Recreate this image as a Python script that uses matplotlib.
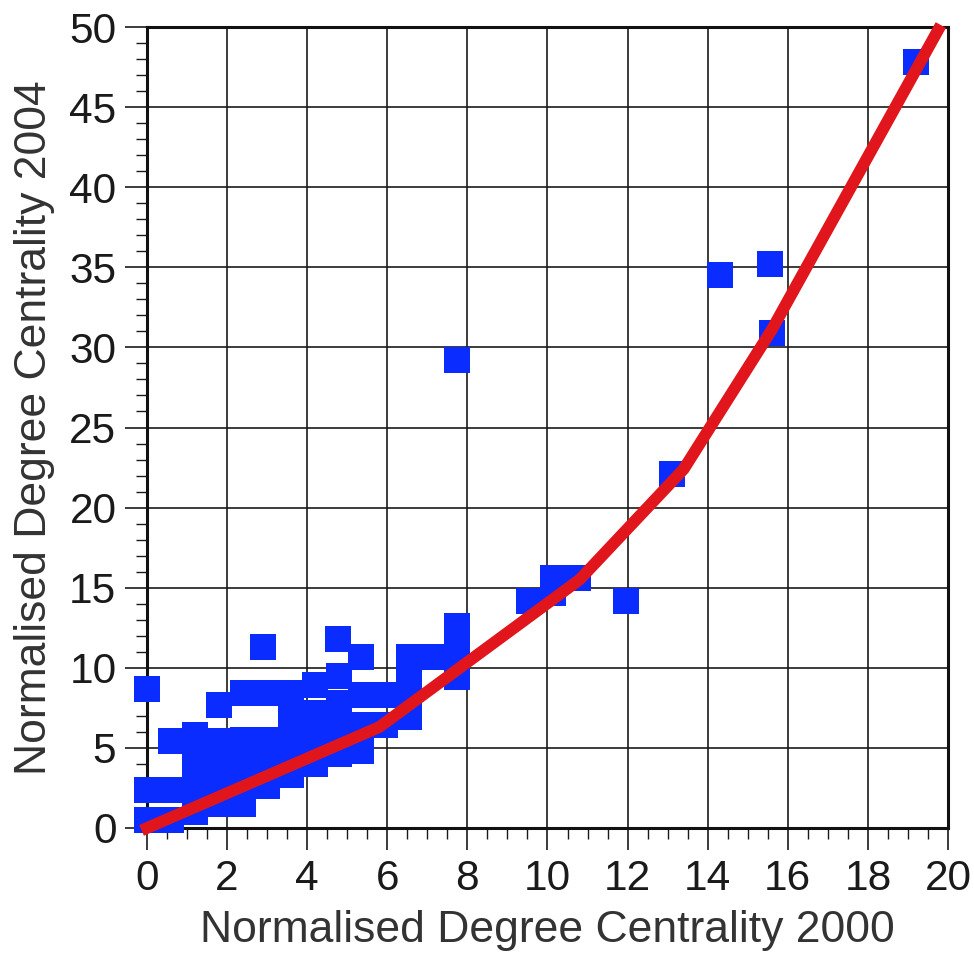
import matplotlib
matplotlib.use("Agg")
import matplotlib.pyplot as plt
from matplotlib.ticker import MultipleLocator

plt.rcParams['font.family'] = ['Liberation Sans', 'DejaVu Sans']

# scatter points (2000 value, 2004 value)
x2000 = [
    # dense cluster, column by column
    0.0, 0.0, 0.0,
    0.6, 0.6, 0.6,
    1.2, 1.2, 1.2, 1.2,
    1.8, 1.8, 1.8, 1.8, 1.8,
    2.4, 2.4, 2.4, 2.4, 2.4,
    3.0, 3.0, 3.0, 3.0,
    3.6, 3.6, 3.6, 3.6, 3.6,
    4.2, 4.2, 4.2, 4.2,
    4.8, 4.8, 4.8, 4.8,
    5.35, 5.35, 5.35,
    5.95, 5.95,
    6.55, 6.55, 6.55, 6.55,
    # scattered ones
    2.9, 4.76, 5.35, 7.1, 7.75, 7.75, 7.75, 7.75,
    9.55, 10.15, 10.15, 10.75, 11.95, 13.1, 14.3, 15.55, 15.6, 19.2,
]
y2004 = [
    0.5, 2.4, 8.7,
    0.5, 2.4, 5.4,
    1.0, 2.6, 4.2, 5.8,
    1.5, 3.1, 4.7, 5.4, 7.7,
    1.5, 3.1, 4.7, 5.5, 8.4,
    2.6, 4.2, 5.5, 8.4,
    3.3, 4.9, 6.5, 7.9, 8.4,
    4.0, 5.6, 7.2, 8.9,
    4.6, 6.2, 7.8, 9.5,
    4.8, 6.4, 8.3,
    6.4, 8.3,
    6.9, 8.5, 10.1, 10.7,
    11.3, 11.8, 10.7, 10.7, 9.4, 11.0, 12.6, 29.2,
    14.2, 15.6, 14.7, 15.6, 14.2, 22.1, 34.5, 35.2, 30.9, 47.8,
]

# red trend line
fit_x = [0.0, 5.8, 10.8, 13.4, 15.6, 19.75]
fit_y = [0.0, 6.3, 15.5, 22.4, 31.1, 49.8]

xticks = [0, 2, 4, 6, 8, 10, 12, 14, 16, 18, 20]
yticks = [0, 5, 10, 15, 20, 25, 30, 35, 40, 45, 50]


def main():
    fig = plt.figure(figsize=(9.74, 9.58), dpi=100)
    ax = fig.add_axes([0.1509, 0.1357, 0.8224, 0.8361])

    ax.plot(x2000, y2004, linestyle="none", marker="s", markersize=18.5,
            markeredgewidth=0, color="#0a2cff", clip_on=False, zorder=3)
    ax.plot(fit_x, fit_y, color="#e0161c", linewidth=8.5,
            solid_capstyle="projecting", solid_joinstyle="miter",
            clip_on=False, zorder=4)

    ax.set_xlim(0, 20)
    ax.set_ylim(0, 50)
    ax.set_xticks(xticks)
    ax.set_yticks(yticks)
    ax.xaxis.set_minor_locator(MultipleLocator(0.5))
    ax.yaxis.set_minor_locator(MultipleLocator(1))

    ax.grid(True, which="major", color="#1a1a1a", linewidth=1.2, zorder=1)
    ax.set_axisbelow(True)
    for s in ax.spines.values():
        s.set_linewidth(2.2)
        s.set_color("#111111")

    ax.tick_params(which="major", direction="out", length=16, width=1.2,
                   labelsize=30.5, pad=6, colors="#1a1a1a")
    ax.tick_params(which="minor", direction="out", length=8, width=1.0,
                   colors="#1a1a1a")
    ax.tick_params(top=False, right=False, which="both")

    ax.set_xlabel("Normalised Degree Centrality 2000", fontsize=32,
                  color="#333333", labelpad=8)
    ax.set_ylabel("Normalised Degree Centrality 2004", fontsize=32,
                  color="#333333", labelpad=10)

    fig.savefig("out.png", dpi=100)


if __name__ == "__main__":
    main()
